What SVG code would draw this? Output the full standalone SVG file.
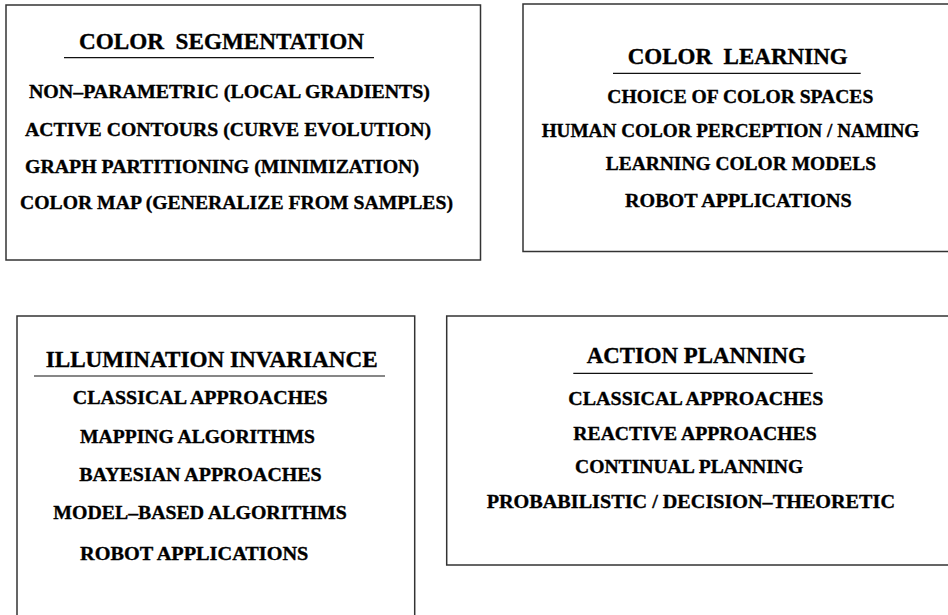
<svg xmlns="http://www.w3.org/2000/svg" width="948" height="615" viewBox="0 0 948 615">
<style>
.box{fill:#fff;stroke:#333;stroke-width:1.5}
.ul{stroke:#111;stroke-width:1.2}
.h{font-size:23px}
.i{font-size:19.2px}
.t{stroke:#000;stroke-width:0.35}
</style>
<rect width="948" height="615" fill="#fff"/>
<g font-family="Liberation Serif" font-weight="bold" fill="#000">
<g id="color-segmentation">
<rect class="box" x="6" y="5" width="474.5" height="255"/>
<text class="h t" x="79" y="49.3" textLength="285" lengthAdjust="spacingAndGlyphs" xml:space="preserve">COLOR  SEGMENTATION</text>
<line class="ul" x1="64" y1="57.7" x2="374" y2="57.7"/>
<text class="i t" x="29" y="98.3" textLength="401" lengthAdjust="spacingAndGlyphs">NON–PARAMETRIC (LOCAL GRADIENTS)</text>
<text class="i t" x="25" y="136" textLength="406" lengthAdjust="spacingAndGlyphs">ACTIVE CONTOURS (CURVE EVOLUTION)</text>
<text class="i t" x="25" y="172.7" textLength="394" lengthAdjust="spacingAndGlyphs">GRAPH PARTITIONING (MINIMIZATION)</text>
<text class="i t" x="20" y="209.3" textLength="433" lengthAdjust="spacingAndGlyphs">COLOR MAP (GENERALIZE FROM SAMPLES)</text>
</g>
<g id="color-learning">
<rect class="box" x="523" y="4" width="430" height="247.5"/>
<text class="h t" x="627.7" y="64" textLength="220" lengthAdjust="spacingAndGlyphs" xml:space="preserve">COLOR  LEARNING</text>
<line class="ul" x1="613" y1="73.3" x2="860.7" y2="73.3"/>
<text class="i t" x="607.3" y="103.3" textLength="266" lengthAdjust="spacingAndGlyphs">CHOICE OF COLOR SPACES</text>
<text class="i t" x="541.7" y="136.7" textLength="377.6" lengthAdjust="spacingAndGlyphs">HUMAN COLOR PERCEPTION / NAMING</text>
<text class="i t" x="605.7" y="170" textLength="270.3" lengthAdjust="spacingAndGlyphs">LEARNING COLOR MODELS</text>
<text class="i t" x="625" y="207.3" textLength="226.7" lengthAdjust="spacingAndGlyphs">ROBOT APPLICATIONS</text>
</g>
<g id="illumination-invariance">
<rect class="box" x="17" y="316" width="397.7" height="310"/>
<text class="h t" x="45.7" y="366.7" textLength="332" lengthAdjust="spacingAndGlyphs">ILLUMINATION INVARIANCE</text>
<line class="ul" x1="34" y1="376" x2="385" y2="376"/>
<text class="i t" x="72.7" y="404.3" textLength="255" lengthAdjust="spacingAndGlyphs">CLASSICAL APPROACHES</text>
<text class="i t" x="80" y="442.7" textLength="235" lengthAdjust="spacingAndGlyphs">MAPPING ALGORITHMS</text>
<text class="i t" x="79.3" y="481" textLength="242.4" lengthAdjust="spacingAndGlyphs">BAYESIAN APPROACHES</text>
<text class="i t" x="53.3" y="519.3" textLength="293.4" lengthAdjust="spacingAndGlyphs">MODEL–BASED ALGORITHMS</text>
<text class="i t" x="80" y="560" textLength="228.3" lengthAdjust="spacingAndGlyphs">ROBOT APPLICATIONS</text>
</g>
<g id="action-planning">
<rect class="box" x="446.7" y="316" width="510" height="249"/>
<text class="h t" x="586.7" y="363.3" textLength="219" lengthAdjust="spacingAndGlyphs">ACTION PLANNING</text>
<line class="ul" x1="573.3" y1="373.3" x2="812.7" y2="373.3"/>
<text class="i t" x="568.3" y="405" textLength="255" lengthAdjust="spacingAndGlyphs">CLASSICAL APPROACHES</text>
<text class="i t" x="573.3" y="440" textLength="243.4" lengthAdjust="spacingAndGlyphs">REACTIVE APPROACHES</text>
<text class="i t" x="575" y="472.7" textLength="228.3" lengthAdjust="spacingAndGlyphs">CONTINUAL PLANNING</text>
<text class="i t" x="486.7" y="508.3" textLength="408.3" lengthAdjust="spacingAndGlyphs">PROBABILISTIC / DECISION–THEORETIC</text>
</g>
</g>
<g id="connectors"></g>
</svg>
